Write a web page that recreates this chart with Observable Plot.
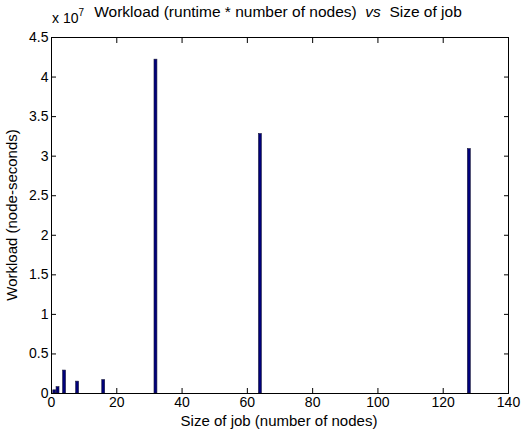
<!DOCTYPE html>
<html>
<head>
<meta charset="utf-8">
<script src="https://cdn.jsdelivr.net/npm/d3@7"></script>
<script src="https://cdn.jsdelivr.net/npm/@observablehq/plot@0.6"></script>
<style>
  body { margin: 0; background: #fff; }
  #chart { position: relative; width: 521px; height: 434px; }
  svg { font-family: "Liberation Sans", Arial, sans-serif; }
</style>
</head>
<body>
<div id="chart"></div>
<script>
const jobSizes = [1, 2, 4, 8, 16, 32, 64, 128];
const workloads = [0.04e7, 0.08e7, 0.29e7, 0.15e7, 0.17e7, 4.22e7, 3.28e7, 3.09e7];
const xTicks = [0, 20, 40, 60, 80, 100, 120, 140];
const yTicks = [0, 0.5e7, 1e7, 1.5e7, 2e7, 2.5e7, 3e7, 3.5e7, 4e7, 4.5e7];
const titleText = "Workload (runtime * number of nodes)";
const xLabel = "Size of job (number of nodes)";
const yLabel = "Workload (node-seconds)";

const data = jobSizes.map((x, i) => ({x, y: workloads[i]}));
const halfWidth = 0.45;

const plot = Plot.plot({
  width: 521,
  height: 434,
  marginLeft: 51,
  marginRight: 13,
  marginTop: 37,
  marginBottom: 41,
  style: {fontFamily: "Liberation Sans, Arial, sans-serif", fontSize: "14px", color: "#000", background: "#fff"},
  x: {domain: [0, 140], ticks: xTicks},
  y: {domain: [0, 4.5e7], ticks: yTicks},
  marks: [
    Plot.rectY(data, {x1: d => d.x - halfWidth, x2: d => d.x + halfWidth, y: "y", fill: "#00007a", stroke: "#1a1a3a", strokeWidth: 0.6}),
    Plot.axisX({anchor: "bottom", ticks: xTicks, tickSize: -5, tickPadding: 9, fontSize: 14, label: null}),
    Plot.axisX({anchor: "top", ticks: xTicks, tickSize: -5, tickFormat: () => "", label: null}),
    Plot.axisY({anchor: "left", ticks: yTicks, tickSize: -5, tickPadding: 8, fontSize: 14, tickFormat: d => String(d / 1e7), label: null}),
    Plot.axisY({anchor: "right", ticks: yTicks, tickSize: -5, tickFormat: () => "", label: null}),
    Plot.frame({stroke: "#000", strokeWidth: 1})
  ]
});

const svg = d3.select(plot);
// Title
const t = svg.append("text")
  .attr("x", 278).attr("y", 17)
  .attr("text-anchor", "middle")
  .style("font-size", "15.5px")
  .attr("fill", "#000");
t.append("tspan").text(titleText + "  ");
t.append("tspan").attr("font-style", "italic").text("vs");
t.append("tspan").text("  Size of job");
// Exponent label
const e = svg.append("text").attr("x", 52).attr("y", 23).attr("text-anchor", "start")
  .style("font-size", "14px").attr("fill", "#000");
e.append("tspan").text("x 10");
e.append("tspan").style("font-size", "10px").attr("dy", -7).text("7");
// X label
svg.append("text").attr("x", 279).attr("y", 426).attr("text-anchor", "middle")
  .style("font-size", "15px").attr("fill", "#000").text(xLabel);
// Y label
svg.append("text").attr("transform", "translate(17,215) rotate(-90)").attr("text-anchor", "middle")
  .style("font-size", "15px").attr("fill", "#000").text(yLabel);

document.getElementById("chart").appendChild(plot);
</script>
</body>
</html>
